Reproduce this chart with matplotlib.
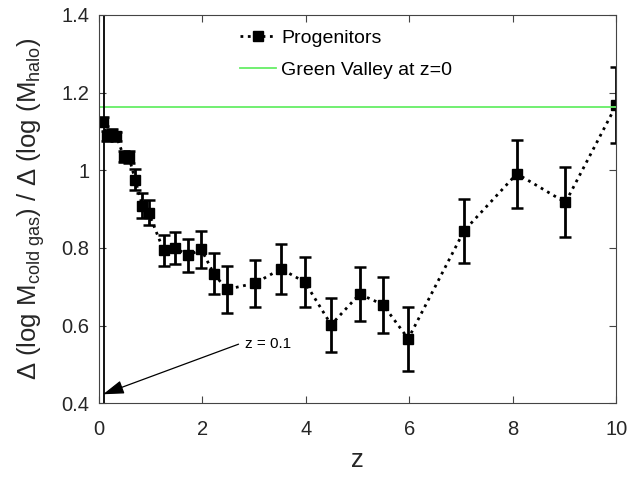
import matplotlib
matplotlib.use("Agg")
import matplotlib.pyplot as plt
import numpy as np

z = [0.08, 0.16, 0.26, 0.34, 0.48, 0.58, 0.70, 0.84, 0.96, 1.25, 1.47, 1.73, 1.98, 2.22, 2.47,
     3.02, 3.52, 3.98, 4.49, 5.04, 5.49, 5.98, 7.06, 8.08, 9.02, 10.0]
ratio = [1.125, 1.088, 1.093, 1.087, 1.035, 1.034, 0.976, 0.909, 0.891, 0.794, 0.800, 0.781,
         0.796, 0.734, 0.693, 0.709, 0.746, 0.712, 0.602, 0.681, 0.654, 0.566, 0.844, 0.991,
         0.917, 1.167]
err = [0.012, 0.012, 0.012, 0.012, 0.015, 0.015, 0.027, 0.033, 0.033, 0.040, 0.042, 0.043,
       0.047, 0.054, 0.060, 0.060, 0.064, 0.065, 0.070, 0.070, 0.072, 0.083, 0.082, 0.088,
       0.090, 0.098]
green_valley = 1.164
z_mark = 0.1
xticks = [0, 2, 4, 6, 8, 10]
yticks = [0.4, 0.6, 0.8, 1.0, 1.2, 1.4]
ytick_labels = ["0.4", "0.6", "0.8", "1", "1.2", "1.4"]

plt.rcParams['font.family'] = ['Liberation Sans', 'DejaVu Sans']
plt.rcParams['mathtext.fontset'] = 'custom'
plt.rcParams['mathtext.rm'] = 'Liberation Sans'
plt.rcParams['mathtext.it'] = 'Liberation Sans'

fig = plt.figure(figsize=(6.3, 4.8), dpi=100)
ax = fig.add_axes([0.157, 0.160, 0.821, 0.809])

# error bars (no legend entry)
ax.errorbar(z, ratio, yerr=err, fmt='none', ecolor='black', capsize=4, capthick=1.8,
            elinewidth=2)
# dotted line with square markers
ax.plot(z, ratio, ls=':', marker='s', color='black', lw=2, ms=7, label='Progenitors')
ax.axhline(green_valley, color='#66ee66', lw=1.3, label='Green Valley at z=0')
ax.axvline(z_mark, color='black', lw=1.3)

ax.annotate('', xy=(0.08, 0.423), xytext=(2.7, 0.552),
            arrowprops=dict(arrowstyle='-|>,head_length=0.8,head_width=0.26', color='black',
                            lw=0.9, mutation_scale=16, shrinkA=0, shrinkB=0))
ax.text(2.82, 0.552, 'z = 0.1', fontsize=11, va='center', ha='left')

ax.set_xlim(0, 10)
ax.set_ylim(0.4, 1.4)
ax.set_xticks(xticks)
ax.set_yticks(yticks)
ax.set_yticklabels(ytick_labels)
ax.tick_params(direction='in', top=True, right=True, labelsize=14.5, color='#444444',
               length=5, width=0.8, labelcolor='#262626')
ax.tick_params(axis='x', pad=12)
ax.tick_params(axis='y', pad=7)
for s in ax.spines.values():
    s.set_color('#444444')
    s.set_linewidth(0.8)

ax.set_xlabel('z', fontsize=18.5, color='#262626')
ax.set_ylabel(r'Δ (log M$_{\rm cold\ gas}$) / Δ (log (M$_{\rm halo}$)', fontsize=18.5,
              color='#262626')
ax.xaxis.set_label_coords(0.5, -0.115)
ax.yaxis.set_label_coords(-0.10, 0.5)

leg = ax.legend(loc='upper left', bbox_to_anchor=(0.273, 0.962), frameon=False,
                fontsize=14, handlelength=1.85, handletextpad=0.25, labelspacing=0.71,
                borderpad=0, borderaxespad=0)

fig.savefig('out.png', dpi=100)
